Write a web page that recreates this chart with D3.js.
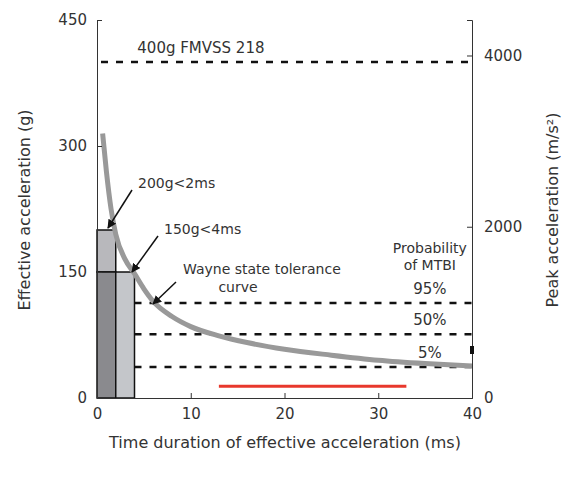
<!DOCTYPE html><html><head><script src="https://cdn.jsdelivr.net/npm/d3@7"></script>
<style>body{margin:0;background:#fff}text{font-family:"DejaVu Sans",sans-serif;fill:#333}</style></head><body>
<svg id="c" width="586" height="482"></svg>
<script>
const xTicks=[0,10,20,30,40], yTicks=[0,150,300,450], y2Ticks=[0,2000,4000];
const curveX=[0.6,1,1.5,2,3,4,5,6,8,10,13,16,20,25,30,35,40];
const curveY=[315,270,225,195,165,148,130,115,97,85,74,66,58,51,45,41,38];
const bars=[{x0:0,x1:2,y0:150,y1:200,c:"#b8b8bc"},{x0:0,x1:2,y0:0,y1:150,c:"#8a8a8e"},{x0:2,x1:4,y0:0,y1:150,c:"#c4c6ca"}];
const dashed=[400,113,76,37];
const dashLabels=[{t:"400g FMVSS 218",x:4.3,y:400},{t:"95%",x:35.5,y:113},{t:"50%",x:35.5,y:76},{t:"5%",x:35.5,y:37}];
const redLine=[13,33,14];
const svg=d3.select("#c");
const x=d3.scaleLinear([0,40],[97,472]), y=d3.scaleLinear([0,450],[398,20]);
const y2=d3.scaleLinear([0,450*9.81],[398,20]);
const g=svg.append("g");
bars.forEach(b=>g.append("rect").attr("x",x(b.x0)).attr("y",y(b.y1)).attr("width",x(b.x1)-x(b.x0)).attr("height",y(b.y0)-y(b.y1)).attr("fill",b.c).attr("stroke","#111").attr("stroke-width",1.5));
dashed.forEach((d,i)=>g.append("line").attr("x1",i?x(4):x(0)).attr("x2",x(40)).attr("y1",y(d)).attr("y2",y(d)).attr("stroke","#111").attr("stroke-width",2.5).attr("stroke-dasharray","7,8").attr("stroke-dashoffset",i?0:-4));
g.append("line").attr("x1",x(redLine[0])).attr("x2",x(redLine[1])).attr("y1",y(redLine[2])).attr("y2",y(redLine[2])).attr("stroke","#e8382c").attr("stroke-width",3);
g.append("path").datum(curveX.map((v,i)=>[v,curveY[i]])).attr("d",d3.line().x(d=>x(d[0])).y(d=>y(d[1])).curve(d3.curveMonotoneX)).attr("fill","none").attr("stroke","#999").attr("stroke-width",5);
svg.append("g").attr("transform","translate(0,398)").call(d3.axisBottom(x).tickValues(xTicks).tickSize(-5).tickPadding(10));
svg.append("g").attr("transform","translate(97,0)").call(d3.axisLeft(y).tickValues(yTicks).tickSize(-5).tickPadding(10));
svg.append("g").attr("transform","translate(472,0)").call(d3.axisRight(y2).tickValues(y2Ticks).tickFormat(d3.format("d")).tickSize(-5).tickPadding(12));
svg.selectAll(".domain").attr("stroke","#333");
svg.selectAll(".tick text").attr("font-size",15).style("fill","#333");
svg.selectAll(".tick line").attr("stroke","#333");
dashLabels.forEach(l=>svg.append("text").attr("x",x(l.x)).attr("y",y(l.y)-9).attr("font-size",15).attr("text-anchor",l.x>30?"middle":"start").text(l.t));
svg.append("text").attr("x",x(35.5)).attr("y",y(113)-50).attr("font-size",14).attr("text-anchor","middle").text("Probability");
svg.append("text").attr("x",x(35.5)).attr("y",y(113)-33).attr("font-size",14).attr("text-anchor","middle").text("of MTBI");
const ann=[{t:"200g<2ms",tx:138,ty:188,x1:132,y1:190,x2:108,y2:228},{t:"150g<4ms",tx:164,ty:234,x1:158,y1:236,x2:132,y2:272},{t:"Wayne state tolerance",tx:183,ty:274,x1:176,y1:282,x2:153,y2:304}];
ann.forEach(a=>{svg.append("text").attr("x",a.tx).attr("y",a.ty).attr("font-size",14).text(a.t);
svg.append("line").attr("x1",a.x1).attr("y1",a.y1).attr("x2",a.x2).attr("y2",a.y2).attr("stroke","#111").attr("stroke-width",1.5).attr("marker-end","url(#ah)");});
svg.append("text").attr("x",238).attr("y",292).attr("font-size",14).attr("text-anchor","middle").text("curve");
svg.append("defs").append("marker").attr("id","ah").attr("viewBox","0 0 10 10").attr("refX",9).attr("refY",5).attr("markerWidth",6).attr("markerHeight",6).attr("orient","auto").append("path").attr("d","M0,0L10,5L0,10z").attr("fill","#111");
svg.append("rect").attr("x",470).attr("y",346).attr("width",4).attr("height",8).attr("fill","#111");
svg.append("text").attr("x",285).attr("y",448).attr("font-size",16).attr("text-anchor","middle").text("Time duration of effective acceleration (ms)");
svg.append("text").attr("transform","translate(30,210) rotate(-90)").attr("font-size",16).attr("text-anchor","middle").text("Effective acceleration (g)");
svg.append("text").attr("transform","translate(558,210) rotate(-90)").attr("font-size",16).attr("text-anchor","middle").text("Peak acceleration (m/s²)");
</script></body></html>
